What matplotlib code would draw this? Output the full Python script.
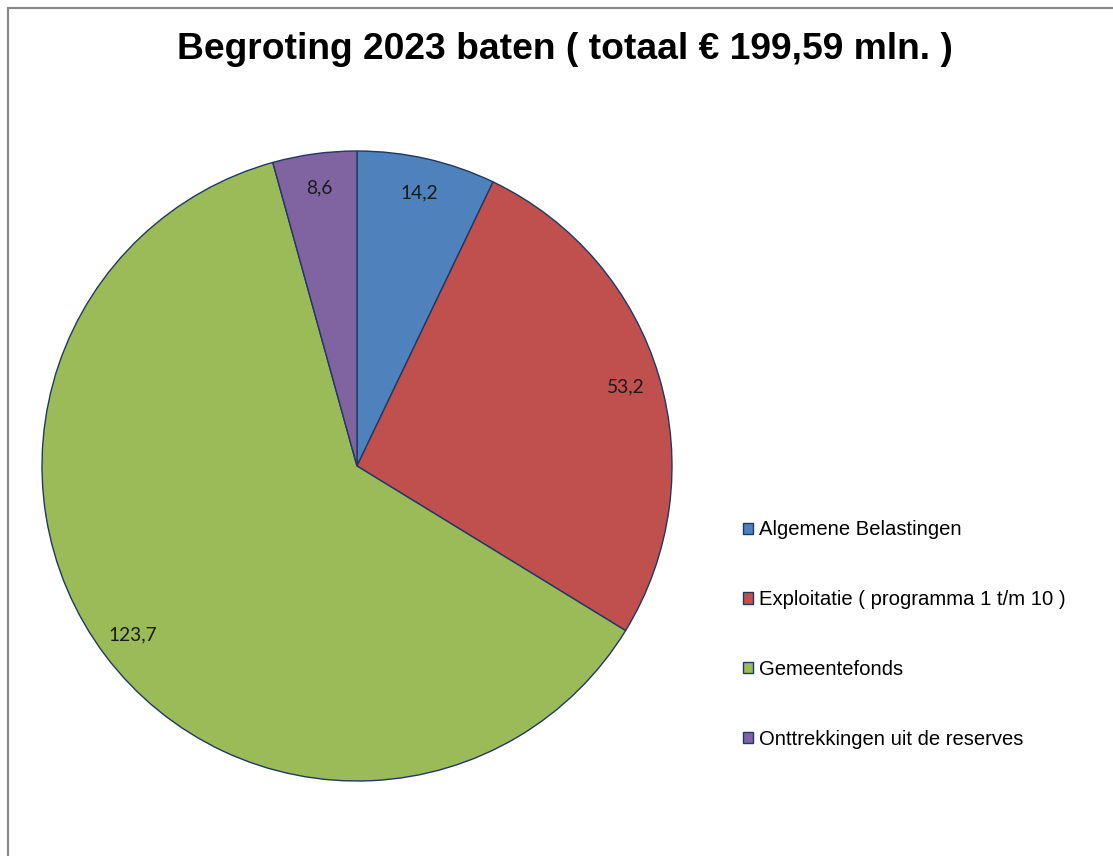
import matplotlib
matplotlib.use("Agg")
import matplotlib.pyplot as plt
from matplotlib.patches import Patch, Rectangle

# data
title = "Begroting 2023 baten ( totaal € 199,59 mln. )"
categories = ["Algemene Belastingen", "Exploitatie ( programma 1 t/m 10 )",
              "Gemeentefonds", "Onttrekkingen uit de reserves"]
values = [14.2, 53.2, 123.7, 8.6]
value_labels = ["14,2", "53,2", "123,7", "8,6"]
colors = ["#4F81BD", "#C0504D", "#9BBB59", "#8064A2"]

W, H = 1113, 856
fig = plt.figure(figsize=(W / 100, H / 100), dpi=100)

# outer frame (only left and top visible)
fig.patches.append(Rectangle((8 / W, -0.1), 1.2, 1.1 - 8 / H, transform=fig.transFigure,
                             fill=False, edgecolor="#868686", linewidth=1.5))

fig.text(565 / W, 1 - 59 / H, title, ha="center", va="baseline",
         fontsize=26.8, fontweight="bold", family="Liberation Sans")

cx, cy, r = 357, 466, 315
ax = fig.add_axes([(cx - r) / W, 1 - (cy + r) / H, 2 * r / W, 2 * r / H])
wedges, texts = ax.pie(values, colors=colors, startangle=90, counterclock=False,
                       labels=value_labels, labeldistance=0.89,
                       wedgeprops=dict(edgecolor="#1F3864", linewidth=1.0),
                       textprops=dict(fontsize=13.8, family="Lato", color="#1a1a1a"))
for t in texts:
    t.set_ha("center")
    t.set_va("center")
for w in wedges:
    w.set_clip_on(False)
ax.set_xlim(-1, 1)
ax.set_ylim(-1, 1)
ax.set_aspect("equal")
ax.axis("off")

handles = [Patch(facecolor=c, edgecolor="#1F3864", linewidth=1.0) for c in colors]
fig.legend(handles, categories, loc="center left",
           bbox_to_anchor=(743 / W, 1 - 634.5 / H), frameon=False,
           prop=dict(family="Liberation Sans", size=14.6),
           handlelength=0.48, handleheight=0.48, handletextpad=0.3,
           labelspacing=2.5, borderpad=0, borderaxespad=0)

fig.savefig("out.png", dpi=100)
